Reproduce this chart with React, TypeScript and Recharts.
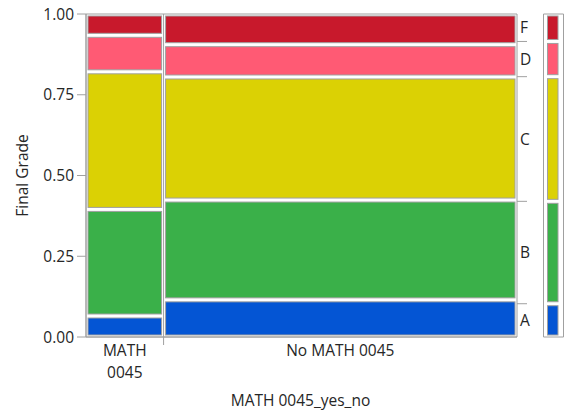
import React from 'react';
import { ComposedChart, XAxis, YAxis, ReferenceArea, ReferenceLine, Label } from 'recharts';

// ---- data ----
const grades = ['A', 'B', 'C', 'D', 'F'];
const gradeColors = ['#0455D4', '#3AB049', '#DBD104', '#FF5A74', '#C8192C'];
const columnLabels = [['MATH', '0045'], ['No MATH 0045']];
const columnShares = [0.18, 0.82];
const mathYesShares = [0.065, 0.33, 0.426, 0.113, 0.066];
const mathNoShares = [0.115, 0.309, 0.381, 0.1, 0.095];
const marginalShares = [0.103, 0.317, 0.386, 0.109, 0.085];
const yTicks = [0, 0.25, 0.5, 0.75, 1];
const xTitle = 'MATH 0045_yes_no';
const yTitle = 'Final Grade';

// ---- derived ----
const columnSeries = [mathYesShares, mathNoShares];
type Cell = { x1: number; x2: number; y1: number; y2: number; fill: string; key: string };
const cells: Cell[] = [];
const columnCenters: number[] = [];
const columnDividers: number[] = [];
{
  let x0 = 0;
  columnSeries.forEach((shares, ci) => {
    const x1 = Math.min(1, x0 + columnShares[ci]);
    columnCenters.push((x0 + x1) / 2);
    if (ci < columnSeries.length - 1) columnDividers.push(x1);
    let y0 = 0;
    shares.forEach((s, gi) => {
      const y1 = Math.min(1, y0 + s);
      cells.push({ x1: x0, x2: x1, y1: y0, y2: y1, fill: gradeColors[gi], key: `c${ci}-${gi}` });
      y0 = y1;
    });
    x0 = x1;
  });
}
const marginalCells: Cell[] = [];
const marginalBounds: number[] = [];
const marginalCenters: number[] = [];
{
  let y0 = 0;
  marginalShares.forEach((s, gi) => {
    const y1 = Math.min(1, y0 + s);
    marginalCells.push({ x1: 0, x2: 1, y1: y0, y2: y1, fill: gradeColors[gi], key: `m${gi}` });
    marginalCenters.push((y0 + y1) / 2);
    if (gi < marginalShares.length - 1) marginalBounds.push(y1);
    y0 = y1;
  });
}
const xTicks = [...columnCenters, ...columnDividers].sort((a, b) => a - b);
const rightTicks = [...marginalCenters, ...marginalBounds].sort((a, b) => a - b);

// ---- styles ----
const FONT = '"Open Sans", "Noto Sans", sans-serif';
const TEXT = '#262626';
const GRID = '#a0a0a0';
const FS = 15.5;

const insetShape = (fill: string, l: number, r: number, v: number) => (p: any) => (
  <rect
    x={p.x + l}
    y={p.y + v}
    width={Math.max(0, p.width - l - r)}
    height={Math.max(0, p.height - 2 * v)}
    fill={fill}
    fillOpacity={1}
    stroke={GRID}
    strokeWidth={1}
  />
);

const XTick = (props: any) => {
  const { x, y, payload } = props;
  const v = payload.value;
  if (columnDividers.indexOf(v) >= 0) {
    return <line x1={x} x2={x} y1={y} y2={y + 8} stroke={GRID} strokeWidth={1} />;
  }
  const ci = columnCenters.indexOf(v);
  const lines = columnLabels[ci] || [];
  return (
    <g>
      {lines.map((t, i) => (
        <text key={i} x={x} y={y + 19 + i * 22} textAnchor="middle" fill={TEXT} fontSize={FS} fontFamily={FONT}>
          {t}
        </text>
      ))}
    </g>
  );
};

const RightTick = (props: any) => {
  const { x, y, payload } = props;
  const v = payload.value;
  if (marginalBounds.indexOf(v) >= 0) {
    return <line x1={x} x2={x + 10} y1={y} y2={y} stroke={GRID} strokeWidth={1} />;
  }
  const gi = marginalCenters.indexOf(v);
  return (
    <text x={x + 3} y={y} dy="0.36em" textAnchor="start" fill={TEXT} fontSize={FS} fontFamily={FONT}>
      {grades[gi]}
    </text>
  );
};

const YTitle = (props: any) => {
  const vb = props.viewBox || { x: 0, y: 14, width: 86, height: 323 };
  const cx = vb.x + 22;
  const cy = vb.y + vb.height / 2;
  return (
    <text x={cx} y={cy} transform={`rotate(-90, ${cx}, ${cy})`} textAnchor="middle" dominantBaseline="central" fill={TEXT} fontSize={FS} fontFamily={FONT}>
      {yTitle}
    </text>
  );
};

const XTitle = (props: any) => {
  const vb = props.viewBox || { x: 86, y: 337, width: 431, height: 73 };
  return (
    <text x={vb.x + vb.width / 2 - 1} y={vb.y + 69} textAnchor="middle" fill={TEXT} fontSize={FS} fontFamily={FONT}>
      {xTitle}
    </text>
  );
};

export default function App() {
  return (
    <div style={{ position: 'absolute', left: 0, top: 0, width: 566, height: 410, background: '#fff' }}>
      <div style={{ position: 'absolute', left: 0, top: 0 }}>
        <ComposedChart width={566} height={410} margin={{ top: 14, right: 0, bottom: 0, left: 0 }}>
          <XAxis
            type="number"
            dataKey="x"
            domain={[0, 1]}
            ticks={xTicks}
            interval={0}
            height={73}
            tickSize={0}
            tickMargin={0}
            tickLine={false}
            axisLine={{ stroke: GRID }}
            tick={<XTick />}
            allowDataOverflow
          >
            <Label content={<XTitle />} />
          </XAxis>
          <YAxis
            type="number"
            domain={[0, 1]}
            ticks={yTicks}
            interval={0}
            width={86}
            tickSize={9}
            tickMargin={3}
            tickLine={{ stroke: GRID }}
            axisLine={{ stroke: GRID }}
            tickFormatter={(v: number) => v.toFixed(2)}
            tick={{ fill: TEXT, fontSize: FS, fontFamily: FONT }}
            allowDataOverflow
          >
            <Label content={<YTitle />} />
          </YAxis>
          <YAxis
            yAxisId="right"
            orientation="right"
            type="number"
            domain={[0, 1]}
            ticks={rightTicks}
            interval={0}
            width={49}
            tickSize={0}
            tickMargin={0}
            tickLine={false}
            axisLine={false}
            tick={<RightTick />}
            allowDataOverflow
          />
          <ReferenceArea x1={0} x2={1} y1={0} y2={1} fill="#fff" fillOpacity={1} stroke={GRID} strokeWidth={1} ifOverflow="visible" />
          {cells.map((c) => (
            <ReferenceArea
              key={c.key}
              x1={c.x1}
              x2={c.x2}
              y1={c.y1}
              y2={c.y2}
              ifOverflow="visible"
              shape={insetShape(c.fill, 2, 2, 2)}
            />
          ))}
          {columnDividers.map((d) => (
            <ReferenceLine key={`d${d}`} x={d} stroke={GRID} strokeWidth={1} ifOverflow="visible" />
          ))}
        </ComposedChart>
      </div>
      <div style={{ position: 'absolute', left: 538, top: 0 }}>
        <ComposedChart width={28} height={410} margin={{ top: 14, right: 2.5, bottom: 73, left: 5.5 }}>
          <XAxis type="number" dataKey="x" domain={[0, 1]} hide allowDataOverflow />
          <YAxis type="number" domain={[0, 1]} hide allowDataOverflow />
          <ReferenceArea x1={0} x2={1} y1={0} y2={1} fill="#fff" fillOpacity={1} stroke={GRID} strokeWidth={1} ifOverflow="visible" />
          {marginalCells.map((c) => (
            <ReferenceArea
              key={c.key}
              x1={c.x1}
              x2={c.x2}
              y1={c.y1}
              y2={c.y2}
              ifOverflow="visible"
              shape={insetShape(c.fill, 4, 5.5, 2)}
            />
          ))}
        </ComposedChart>
      </div>
    </div>
  );
}
